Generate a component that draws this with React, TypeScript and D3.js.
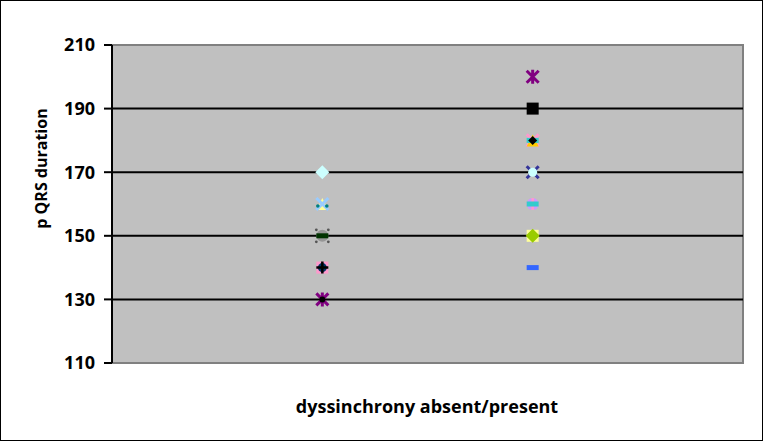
import React from "react";
import * as d3 from "d3";

const yTicks = [110, 130, 150, 170, 190, 210];
const categories = [1, 2];
// Marker layers: category, value, shape, colour
const markerX = [1, 1, 1, 1, 1, 1, 1, 1, 1, 1, 1, 1, 2, 2, 2, 2, 2, 2, 2, 2, 2, 2, 2, 2, 2, 2];
const markerY = [170, 160, 160, 150, 150, 140, 140, 140, 130, 130, 160, 150, 200, 190, 180, 180, 180, 180, 170, 170, 160, 160, 160, 150, 150, 140];
const markerShape = ["diamond", "triangle", "x", "circle", "dash", "square", "circleS", "plus", "star", "dot", "dot2", "dots", "star", "square", "x", "triangle", "dash", "diamondS", "x", "circleS", "circle", "plus", "dash", "square", "diamond", "dash"];
const markerColor = ["#ccffff", "#ffff99", "#99ccff", "#969696", "#003300", "#ff99cc", "#003366", "#000000", "#800080", "#000000", "#008080", "#555555", "#800080", "#000000", "#ff99cc", "#ffcc00", "#33cccc", "#000000", "#333399", "#ccffff", "#cc99ff", "#ff99cc", "#33cccc", "#ffff99", "#99cc00", "#3366ff"];

const W = 763, H = 441;
const left = 112, right = 743, top = 45, bottom = 363;

function Marker({ x, y, shape, color }: { x: number; y: number; shape: string; color: string }) {
  const s = 6;
  switch (shape) {
    case "diamond":
      return <path d={`M${x},${y - 7}L${x + 7},${y}L${x},${y + 7}L${x - 7},${y}Z`} fill={color} />;
    case "diamondS":
      return <path d={`M${x},${y - 4.5}L${x + 4.5},${y}L${x},${y + 4.5}L${x - 4.5},${y}Z`} fill={color} />;
    case "square":
      return <rect x={x - s} y={y - s} width={2 * s} height={2 * s} fill={color} />;
    case "triangle":
      return <path d={`M${x},${y - 6}L${x + 6},${y + 6}L${x - 6},${y + 6}Z`} fill={color} />;
    case "x":
      return <path d={`M${x - 6},${y - 6}L${x + 6},${y + 6}M${x + 6},${y - 6}L${x - 6},${y + 6}`} stroke={color} strokeWidth={3} />;
    case "circle":
      return <circle cx={x} cy={y} r={6} fill={color} />;
    case "circleS":
      return <circle cx={x} cy={y} r={4.5} fill={color} />;
    case "dash":
      return <rect x={x - 6} y={y - 2.5} width={12} height={5} fill={color} />;
    case "plus":
      return <path d={`M${x - 6},${y}L${x + 6},${y}M${x},${y - 6}L${x},${y + 6}`} stroke={color} strokeWidth={2.5} />;
    case "star":
      return <path d={`M${x - 6},${y - 6}L${x + 6},${y + 6}M${x + 6},${y - 6}L${x - 6},${y + 6}M${x},${y - 7}L${x},${y + 7}`} stroke={color} strokeWidth={3} />;
    case "dot":
      return <circle cx={x} cy={y} r={3} fill={color} />;
    case "dot2":
      return <g fill={color}><circle cx={x - 4.5} cy={y + 2} r={1.8} /><circle cx={x + 4.5} cy={y + 2} r={1.8} /></g>;
    case "dots":
      return <g fill={color}>{[[-6, -6], [6, -6], [-6, 6], [6, 6]].map(([dx, dy], i) => <circle key={i} cx={x + dx} cy={y + dy} r={1.4} />)}</g>;
    default:
      return null;
  }
}

export default function App() {
  const y = d3.scaleLinear().domain([110, 210]).range([bottom, top]);
  const x = d3.scaleLinear().domain([0, 3]).range([left, right]);
  const font = "'Open Sans', Lato, sans-serif";
  return (
    <svg width={W} height={H} style={{ position: "absolute", left: 0, top: 0 }}>
      <rect x={0.5} y={0.5} width={W - 1} height={H - 1} fill="#fff" stroke="#000" strokeWidth={1} />
      <rect x={left} y={top} width={right - left} height={bottom - top} fill="#c0c0c0" stroke="#808080" strokeWidth={2} />
      {yTicks.filter((t) => t !== 110 && t !== 210).map((t) => (
        <line key={t} x1={left} x2={right} y1={y(t)} y2={y(t)} stroke="#000" strokeWidth={2} />
      ))}
      <line x1={left} x2={left} y1={top} y2={bottom} stroke="#000" strokeWidth={2} />
      {yTicks.map((t) => (
        <g key={t}>
          <line x1={left - 8} x2={left} y1={y(t)} y2={y(t)} stroke="#000" strokeWidth={2} />
          <text x={95} y={y(t)} dy="0.36em" textAnchor="end" fontFamily={font} fontWeight="bold" fontSize={18} fill="#000">{t}</text>
        </g>
      ))}
      {markerX.map((c, i) => (
        <Marker key={i} x={x(categories[c - 1])} y={y(markerY[i])} shape={markerShape[i]} color={markerColor[i]} />
      ))}
      <text transform={`translate(41,168.5) rotate(-90)`} textAnchor="middle" dy="0.36em" fontFamily={font} fontWeight="bold" fontSize={16} fill="#000">p QRS duration</text>
      <text x={427} y={407} textAnchor="middle" dy="0.36em" fontFamily={font} fontWeight="bold" fontSize={18} fill="#000">dyssinchrony absent/present</text>
    </svg>
  );
}
